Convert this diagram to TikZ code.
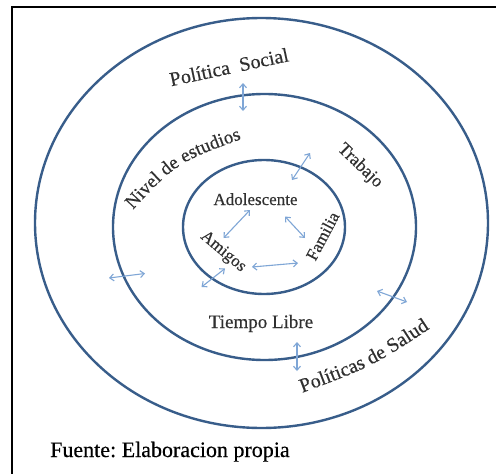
\documentclass[tikz,border=0pt]{standalone}
\usepackage{fontspec}
\setmainfont{Liberation Serif}
\newfontface\lblface{Liberation Serif}[FakeBold=0.35]
\usetikzlibrary{arrows.meta,decorations.text}
\definecolor{ringblue}{HTML}{385D8A}
\definecolor{linkblue}{HTML}{7FA6D6}
\definecolor{labelgray}{HTML}{303030}
\newcommand\fsz[1]{\lblface\fontsize{#1}{#1}\selectfont}
\frenchspacing

\begin{document}
\begin{tikzpicture}[x=1pt,y=-1pt,
  ring/.style={draw=ringblue,line width=2.4pt},
  link/.style={draw=linkblue,line width=1.1pt,
    {Straight Barb[length=4pt,width=7pt]}-{Straight Barb[length=4pt,width=7pt]}},
  lbl/.style={text=labelgray,inner sep=0pt,font=\fsz{17}},
  curved/.style={decorate,decoration={text along path,text align=center,
    text color=labelgray,text={|\fsz{#1}|\curvedtext}}},
]
\useasboundingbox (0,0) rectangle (496,474);
\fill[white] (0,0) rectangle (496,474);

% frame: left and top edges only
\draw[line width=2pt] (12,474) |- (496,6.5);

% the three rings
\coordinate (cOut) at (261.5,223);
\coordinate (cMid) at (264.5,227);
\coordinate (cIn)  at (264,227);
\draw[ring] (cOut) ellipse [x radius=226.5pt, y radius=205pt];
\draw[ring] (cMid) ellipse [x radius=151.5pt, y radius=133pt];
\draw[ring] (cIn)  ellipse [x radius=81pt, y radius=67pt];

% labels
\node[lbl,font=\fsz{20},rotate=12] (polsoc) at (229,67) {Política\hspace{0.5em}Social};
\node[lbl,font=\fsz{18},rotate=-44] (trabajo) at (360,166) {Trabajo};
\node[lbl,anchor=base] (adol) at (255.5,205) {Adolescente};
\node[lbl,rotate=62] (familia) at (322.5,236) {Familia};
\node[lbl,rotate=-40] (amigos) at (223,252) {Amigos};
\node[lbl,font=\fsz{19},anchor=base] (tiempo) at (261,328) {Tiempo Libre};
\node[inner sep=0pt,font=\fsz{22},anchor=base west] (fuente) at (50,457) {Fuente: Elaboracion propia};

\def\curvedtext{Nivel de estudios}
\path[curved=19] (124.7,218.9) .. controls (176.0,162.4) .. (253.1,134.9);
\def\curvedtext{Políticas de Salud}
\path[curved=20] (290.4,397.2) .. controls (372.8,366.6) .. (440.4,321.6);

% interaction arrows
\coordinate (a1) at (243,83);    \coordinate (b1) at (243,111);
\coordinate (a2) at (310,153);   \coordinate (b2) at (292,180);
\coordinate (a3) at (250,210);   \coordinate (b3) at (223.5,238);
\coordinate (a4) at (285,216.5); \coordinate (b4) at (305,238);
\coordinate (a5) at (252,267);   \coordinate (b5) at (298,263);
\coordinate (a6) at (225,268.5); \coordinate (b6) at (201.5,287);
\coordinate (a7) at (109,278);   \coordinate (b7) at (145,273.5);
\coordinate (a8) at (377,291);   \coordinate (b8) at (407,302);
\coordinate (a9) at (297,342);   \coordinate (b9) at (297,371);
\foreach \i in {1,...,9} \draw[link] (a\i) -- (b\i);
\end{tikzpicture}
\end{document}
